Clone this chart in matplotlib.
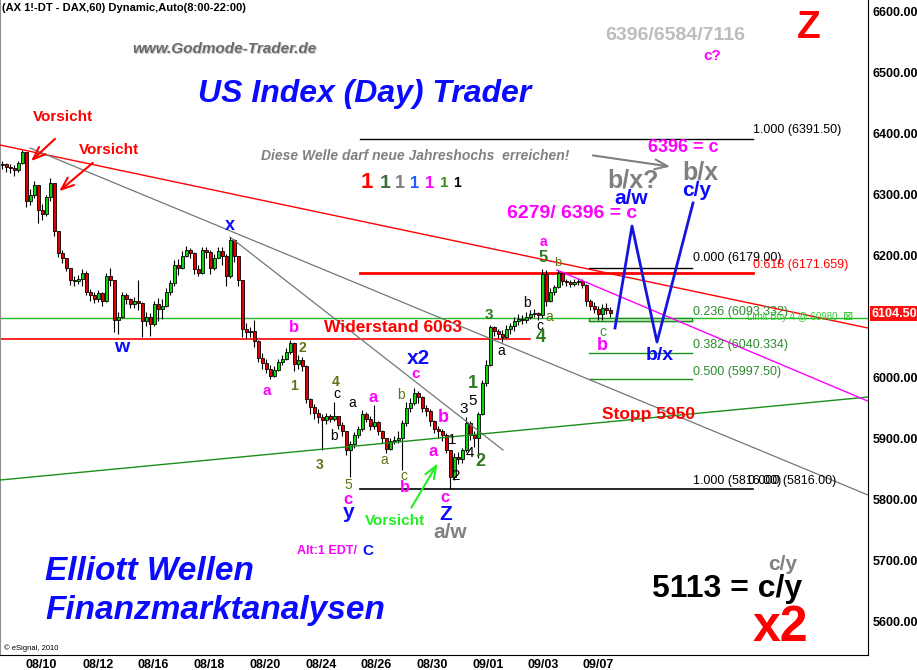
import numpy as np
import matplotlib as mpl
mpl.use('Agg')
from matplotlib import pyplot as plt
from matplotlib import transforms
from matplotlib.patches import Rectangle

plt.rcParams['font.family'] = ['Liberation Sans', 'DejaVu Sans']

# hourly DAX candles (2 hours per candle)
closes = [
    6350, 6346, 6344, 6340, 6352, 6370, 6290, 6300, 6316, 6275,
    6268, 6296, 6319, 6240, 6205, 6196, 6180, 6160, 6158, 6162,
    6172, 6140, 6135, 6128, 6138, 6126, 6166, 6160, 6094, 6100,
    6135, 6128, 6120, 6125, 6122, 6092, 6100, 6088, 6120, 6112,
    6118, 6140, 6155, 6185, 6180, 6200, 6210, 6205, 6178, 6172,
    6210, 6206, 6180, 6196, 6208, 6200, 6166, 6226, 6200, 6160,
    6080, 6074, 6076, 6060, 6032, 6024, 6014, 6002, 6012, 6025,
    6030, 6042, 6056, 6022, 6028, 6018, 5964, 5952, 5942, 5935,
    5930, 5936, 5932, 5936, 5922, 5912, 5880, 5890, 5905, 5915,
    5940, 5932, 5920, 5926, 5912, 5900, 5882, 5895, 5898, 5900,
    5925, 5950, 5958, 5975, 5968, 5950, 5945, 5928, 5915, 5912,
    5905, 5880, 5836, 5870, 5866, 5880, 5925, 5905, 5900, 5940,
    5990, 6020, 6082, 6076, 6072, 6066, 6080, 6084, 6092, 6096,
    6094, 6100, 6104, 6106, 6102, 6170, 6126, 6140, 6148, 6172,
    6158, 6156, 6154, 6156, 6158, 6152, 6126, 6118, 6112, 6104,
    6114, 6110, 6105]
highs = [
    6356, 6352, 6350, 6348, 6356, 6374, 6342, 6310, 6322, 6300,
    6285, 6300, 6327, 6280, 6235, 6210, 6196, 6178, 6166, 6168,
    6178, 6174, 6145, 6140, 6144, 6140, 6172, 6180, 6160, 6108,
    6140, 6138, 6130, 6132, 6160, 6124, 6108, 6106, 6126, 6130,
    6128, 6146, 6160, 6192, 6194, 6208, 6216, 6212, 6206, 6184,
    6214, 6214, 6210, 6202, 6214, 6214, 6202, 6230, 6228, 6200,
    6160, 6090, 6082, 6094, 6062, 6040, 6030, 6020, 6018, 6030,
    6036, 6048, 6062, 6058, 6036, 6034, 6020, 5966, 5956, 5948,
    5940, 5942, 5940, 5960, 5936, 5926, 5910, 5896, 5910, 5920,
    5946, 5944, 5936, 5955, 5928, 5914, 5900, 5900, 5904, 5912,
    5930, 5960, 5966, 5982, 5978, 5970, 5954, 5948, 5930, 5920,
    5916, 5908, 5862, 5876, 5878, 5884, 5935, 5928, 5912, 5944,
    5996, 6028, 6086, 6084, 6080, 6078, 6086, 6090, 6100, 6104,
    6102, 6108, 6110, 6112, 6108, 6178, 6176, 6146, 6152, 6176,
    6172, 6162, 6160, 6162, 6164, 6162, 6154, 6128, 6124, 6118,
    6120, 6122, 6116]
lows = [
    6342, 6338, 6336, 6330, 6338, 6350, 6280, 6283, 6295, 6254,
    6258, 6265, 6290, 6232, 6198, 6188, 6174, 6152, 6150, 6154,
    6150, 6135, 6125, 6122, 6124, 6118, 6124, 6150, 6075, 6072,
    6098, 6120, 6114, 6114, 6110, 6066, 6085, 6068, 6085, 6092,
    6096, 6116, 6136, 6150, 6168, 6178, 6198, 6196, 6170, 6166,
    6170, 6196, 6170, 6176, 6196, 6184, 6150, 6164, 6190, 6150,
    6066, 6064, 6066, 6050, 6026, 6014, 6008, 5998, 6000, 6010,
    6020, 6028, 6038, 6010, 6014, 6010, 5958, 5940, 5932, 5925,
    5880, 5924, 5926, 5928, 5916, 5904, 5872, 5836, 5884, 5900,
    5912, 5926, 5914, 5916, 5906, 5892, 5876, 5880, 5890, 5892,
    5848, 5920, 5944, 5954, 5958, 5944, 5936, 5920, 5908, 5900,
    5896, 5876, 5816, 5832, 5858, 5860, 5878, 5898, 5886, 5868,
    5938, 5986, 6018, 6068, 6064, 6058, 6064, 6072, 6076, 6086,
    6088, 6090, 6096, 6100, 6094, 6098, 6118, 6124, 6136, 6146,
    6152, 6150, 6148, 6150, 6152, 6146, 6118, 6110, 6106, 6094,
    6094, 6104, 6100]
first_open = 6348
last_price = 6104.50

tick_pos = [9.75, 24, 37.75, 51.75, 65.75, 79.75, 93.5, 107.5, 121.5, 135.25, 149]
tick_labels = ['08/10', '08/12', '08/16', '08/18', '08/20', '08/24',
               '08/26', '08/30', '09/01', '09/03', '09/07']

# drawn trend lines: (bar, price) -> (bar, price)
trend_lines = [
    ((-0.5, 6381.6), (216.5, 6081.1), 'red', 1.0),
    ((7, 6376.7), (216.5, 5806.9), '#707878', 0.9),
    ((57, 6230.5), (125.25, 5880.8), '#707878', 0.9),
    ((-0.5, 5831.5), (216.5, 5967.8), '#1a8f1a', 1.0),
    ((138.75, 6176.4), (216.5, 5961.0), '#ff00ff', 1.0),
]
# projected path
proj_bars = [153.25, 157.5, 163.75, 172.75]
proj_prices = [6081.1, 6248.6, 6058.1, 6286.4]

# horizontal levels: price, start bar, end bar, colour, width
levels = [
    (6098.0, -0.5, 216.5, '#22bb22', 1.0),
    (6063.0, -0.5, 132.0, 'red', 1.2),
    (6391.5, 89.5, 187.75, 'black', 1.0),
    (6171.659, 89.5, 187.75, 'red', 2.0),
    (5816.0, 89.5, 187.75, 'black', 1.2),
    (6179.0, 146.75, 172.5, 'black', 1.0),
    (6093.332, 146.75, 172.5, '#1a8f1a', 1.0),
    (6040.334, 146.75, 172.5, '#1a8f1a', 1.0),
    (5997.5, 146.75, 172.5, '#1a8f1a', 1.0),
]

fig = plt.figure(figsize=(9.17, 6.7), dpi=100)
ax = fig.add_axes([0, 15 / 670, 868 / 917, 655 / 670])

for p, b0, b1, c, lw in levels:
    ax.plot([b0, b1], [p, p], color=c, lw=lw, zorder=2)
ax.add_patch(Rectangle((146.75, 6093.332), 25.75, 4.7, fill=False, ec='#1a8f1a', lw=1, zorder=2))

for (b0, p0), (b1, p1), c, lw in trend_lines:
    ax.plot([b0, b1], [p0, p1], color=c, lw=lw, zorder=4)

x = np.arange(len(closes))
opens = [first_open] + closes[:-1]
o = np.array(opens, float)
c = np.array(closes, float)
h = np.maximum(np.array(highs, float), np.maximum(o, c))
l = np.minimum(np.array(lows, float), np.minimum(o, c))
cols = np.where(c >= o, '#10d010', '#e00000')
ax.vlines(x, l, h, color='black', lw=0.8, zorder=3)
body = np.maximum(np.abs(c - o), 1.5)
ax.bar(x, body, bottom=np.minimum(o, c), width=0.75, color=cols,
       edgecolor='black', linewidth=0.6, zorder=3)

ax.plot(proj_bars, proj_prices, color='#1515e0', lw=2, zorder=5)

ax.set_xlim(-0.5, 216.5)
ax.set_ylim(5544.2, 6619.7)
ax.yaxis.tick_right()
ax.set_yticks(np.arange(5600, 6601, 100))
ax.yaxis.set_major_formatter('{x:.2f}')
ax.set_xticks(tick_pos, tick_labels)
ax.tick_params(axis='y', length=0, pad=3, labelsize=9)
ax.tick_params(axis='x', length=0, pad=3, labelsize=9)
for lbl in ax.get_yticklabels() + ax.get_xticklabels():
    lbl.set_fontweight('bold')
ax.spines['top'].set_visible(False)
ax.spines['left'].set_color('#909090')
ax.spines['right'].set_color('black')
ax.spines['bottom'].set_color('black')

trans = transforms.blended_transform_factory(ax.transAxes, ax.transData)
ax.text(1.004, last_price, '%.2f' % last_price, transform=trans, color='white',
        fontsize=9, fontweight='bold', ha='left', va='center',
        bbox=dict(fc='#ff1010', ec='none', pad=1.0), clip_on=False)

# overlay in pixel coordinates for the drawn annotations
ov = fig.add_axes([0, 0, 1, 1], facecolor='none')
ov.set_xlim(0, 917)
ov.set_ylim(670, 0)
ov.axis('off')

MAG = '#ff00ff'
BLUE = '#0a0aff'
DKG = '#2d7a1f'
OLV = '#5f7314'
GRAY = '#808080'
FIBG = '#2e8b2e'

def lab(xp, yp, s, col, fs, w='bold', st='normal', ha='center'):
    ov.text(xp, yp, s, color=col, fontsize=fs, fontweight=w, fontstyle=st,
            ha=ha, va='center')

lab(2, 8, '(AX 1!-DT - DAX,60) Dynamic,Auto(8:00-22:00)', 'black', 8, ha='left')
lab(225, 50, 'www.Godmode-Trader.de', '#c8c8c8', 11, st='italic')
lab(224, 49, 'www.Godmode-Trader.de', '#6a6a6a', 11, st='italic')
lab(365, 94, 'US Index (Day) Trader', BLUE, 23, st='italic')
lab(675, 36, '6396/6584/7116', '#bdbdbd', 14)
lab(712, 56, 'c?', MAG, 11)
lab(809, 28, 'Z', 'red', 28)
lab(753, 130, '1.000 (6391.50)', 'black', 9, w='normal', ha='left')
lab(415, 156, 'Diese Welle darf neue Jahreshochs  erreichen!', GRAY, 10, st='italic')
lab(683, 147, '6396 = c', MAG, 13)
lab(633, 180, 'b/x?', GRAY, 18)
lab(700, 173, 'b/x', GRAY, 18)
lab(697, 190, 'c/y', BLUE, 15)
lab(631, 199, 'a/w', BLUE, 15)
lab(572, 214, '6279/ 6396 = c', MAG, 14)

ones_x = [367, 385, 400, 415, 430, 444, 457]
ones_c = ['#ff0000', '#3c6e3c', '#808080', '#1e5aff', MAG, '#3c8c1e', 'black']
ones_s = [16, 14, 13, 12, 12, 11, 10]
for xx, cc, ss in zip(ones_x, ones_c, ones_s):
    lab(xx, 183, '1', cc, ss)

lab(230, 225, 'x', BLUE, 13)
lab(543, 242, 'a', MAG, 10)
lab(543, 258, '5', DKG, 12)
lab(558, 263, 'b', OLV, 9, w='normal')
lab(693, 258, '0.000 (6179.00)', 'black', 9, w='normal', ha='left')
lab(753, 265, '0.618 (6171.659)', 'red', 9, w='normal', ha='left')
lab(122, 347, 'w', BLUE, 14)
lab(294, 328, 'b', MAG, 12)
lab(393, 328, 'Widerstand 6063', 'red', 12.5)
lab(302, 348, '2', OLV, 10)
lab(294, 386, '1', OLV, 10)
lab(267, 391, 'a', MAG, 11)
lab(489, 315, '3', DKG, 11)
lab(527, 303, 'b', 'black', 10, w='normal')
lab(540, 326, 'c', 'black', 10, w='normal')
lab(549, 317, 'a', OLV, 10, w='normal')
lab(541, 337, '4', DKG, 13)
lab(501, 351, 'a', 'black', 10, w='normal')
lab(603, 332, 'c', '#3a9a3a', 10, w='normal')
lab(602, 345, 'b', MAG, 13)
lab(660, 356, 'b/x', BLUE, 14)
lab(693, 312, '0.236 (6093.332)', FIBG, 9, w='normal', ha='left')
lab(747, 317, 'Limit Buy 4 @ 60980', '#33cc33', 7, w='normal', ha='left')
ov.text(848, 316, '\u22a0', color='#33cc33', fontsize=9, ha='center', va='center',
        family='DejaVu Sans')
lab(693, 345, '0.382 (6040.334)', FIBG, 9, w='normal', ha='left')
lab(693, 372, '0.500 (5997.50)', FIBG, 9, w='normal', ha='left')
lab(418, 359, 'x2', BLUE, 15)
lab(416, 374, 'c', MAG, 11)
lab(336, 382, '4', OLV, 10)
lab(337, 394, 'c', 'black', 10, w='normal')
lab(352, 403, 'a', 'black', 10, w='normal')
lab(373, 398, 'a', MAG, 12)
lab(401, 395, 'b', OLV, 10, w='normal')
lab(443, 418, 'b', MAG, 13)
lab(334, 436, 'b', 'black', 10, w='normal')
lab(464, 409, '3', 'black', 11, w='normal')
lab(473, 401, '5', 'black', 11, w='normal')
lab(473, 384, '1', DKG, 13)
lab(452, 440, '1', 'black', 11, w='normal')
lab(649, 415, 'Stopp 5950', 'red', 12.5)
lab(433, 451, 'a', MAG, 12)
lab(470, 453, '4', 'black', 11, w='normal')
lab(480, 461, '2', DKG, 13)
lab(320, 465, '3', OLV, 10)
lab(384, 460, 'a', OLV, 10, w='normal')
lab(404, 476, 'c', OLV, 10, w='normal')
lab(456, 476, '2', 'black', 11, w='normal')
lab(348, 485, '5', OLV, 10, w='normal')
lab(405, 488, 'b', MAG, 12)
lab(348, 499, 'c', MAG, 12)
lab(445, 497, 'c', MAG, 12)
lab(693, 481, '1.000 (5816.00)', 'black', 9, w='normal', ha='left')
lab(748, 481, '0.000 (5816.00)', 'black', 9, w='normal', ha='left')
lab(349, 513, 'y', BLUE, 15)
lab(446, 515, 'Z', BLUE, 15)
lab(395, 521, 'Vorsicht', '#22ee22', 11)
lab(450, 533, 'a/w', GRAY, 15)
lab(297, 551, 'Alt:1 EDT/', MAG, 9, ha='left')
lab(368, 551, 'C', BLUE, 11)
lab(783, 565, 'c/y', GRAY, 15)
lab(45, 571, 'Elliott Wellen', BLUE, 24, st='italic', ha='left')
lab(727, 589, '5113 = c/y', 'black', 23)
lab(45, 610, 'Finanzmarktanalysen', BLUE, 24, st='italic', ha='left')
lab(780, 628, 'x2', 'red', 36)
lab(4, 648, '\u00a9 eSignal, 2010', 'black', 5.5, w='normal', ha='left')
lab(33, 117, 'Vorsicht', 'red', 11, ha='left')
lab(79, 150, 'Vorsicht', 'red', 11, ha='left')

# hand drawn arrows
arrows = [
    ((57, 137), (29, 163), 'red'),
    ((95, 161), (57, 193), 'red'),
    ((410, 510), (439, 461), '#22ee22'),
    ((590, 155), (673, 167), GRAY),
]
for tail, tip, col in arrows:
    ov.annotate('', xy=tip, xytext=tail,
                arrowprops=dict(arrowstyle='->,head_length=0.9,head_width=0.35',
                                color=col, lw=1.5))

plt.savefig('out.png', dpi=100)
